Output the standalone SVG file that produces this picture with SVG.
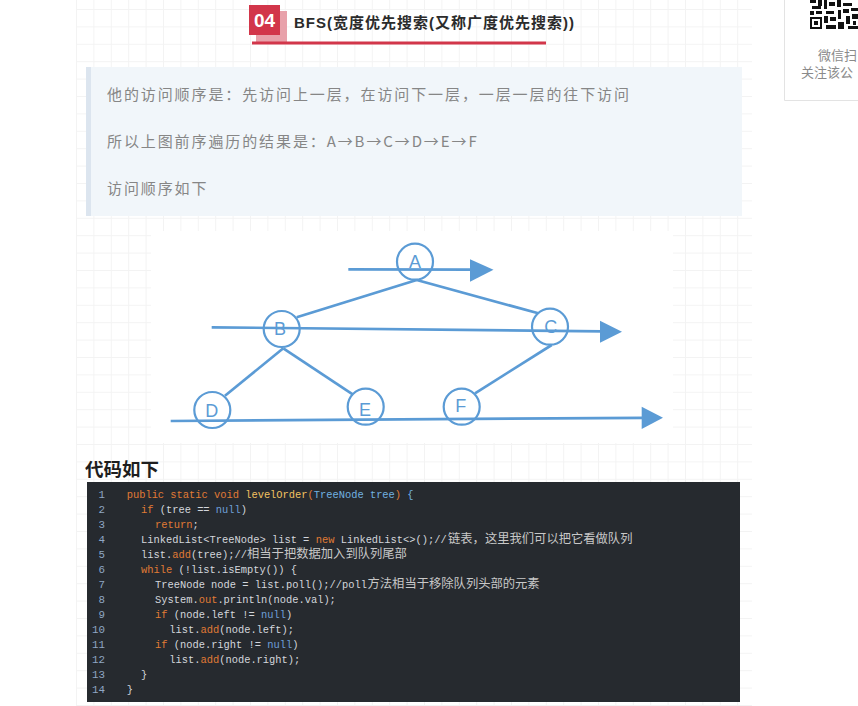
<svg xmlns="http://www.w3.org/2000/svg" width="858" height="706" viewBox="0 0 858 706">
<style>
.cjk{font-family:"Noto Sans CJK SC","Noto Sans",sans-serif}
.q{font-family:"Noto Sans CJK SC","Noto Sans",sans-serif;font-size:15px;fill:#868686;letter-spacing:1.9px}
.code{font-family:"Liberation Mono","DejaVu Sans Mono",monospace;font-size:10.4px;fill:#d3d6dc;white-space:pre}
.ln{font-family:"Liberation Mono","DejaVu Sans Mono",monospace;font-size:10.8px;fill:#8fa7c4;text-anchor:end}
.k{fill:#e07b35}
.f{fill:#f2c261}
.t{fill:#72b2e0}
.n{fill:#6e9fd8}
.c{font-family:"Noto Sans CJK SC","Noto Sans",sans-serif;font-size:12.3px;fill:#c8c8c8}
.node circle{fill:none;stroke:#5b9bd5;stroke-width:2.2}
.node text{font-family:"Liberation Sans","Open Sans",sans-serif;font-size:18px;fill:#5b9bd5;text-anchor:middle}
.edge{stroke:#5b9bd5;stroke-width:2.7;fill:none}
.head{fill:#5b9bd5}
</style>
<defs>
<pattern id="grid" patternUnits="userSpaceOnUse" x="76" y="9" width="17.4" height="17.4">
<path d="M0.5 0V17.4M0 0.5H17.4" stroke="#f3f3f3" stroke-width="1" fill="none"/>
</pattern>
</defs>
<rect width="858" height="706" fill="#ffffff"/>
<rect x="76" y="0" width="676" height="706" fill="url(#grid)"/>

<!-- QR box -->
<g id="qr">
<path d="M784.5 0V100.5H858" fill="none" stroke="#e3e3e3"/>
<rect x="810" y="17" width="12" height="12" fill="#111"/>
<rect x="812" y="19" width="8" height="8" fill="#fff"/>
<rect x="814" y="21" width="4" height="4" fill="#111"/>
<rect x="810" y="0" width="6" height="3" fill="#111"/>
<rect x="818" y="0" width="4" height="6" fill="#111"/>
<rect x="812" y="6" width="9" height="3" fill="#111"/>
<rect x="810" y="11" width="4" height="4" fill="#111"/>
<rect x="816" y="11" width="6" height="3" fill="#111"/>
<rect x="824" y="0" width="3" height="9" fill="#111"/>
<rect x="829" y="2" width="6" height="4" fill="#111"/>
<rect x="837" y="0" width="4" height="7" fill="#111"/>
<rect x="843" y="3" width="9" height="3" fill="#111"/>
<rect x="826" y="11" width="8" height="3" fill="#111"/>
<rect x="824" y="16" width="4" height="7" fill="#111"/>
<rect x="830" y="17" width="6" height="4" fill="#111"/>
<rect x="838" y="10" width="3" height="9" fill="#111"/>
<rect x="843" y="9" width="6" height="4" fill="#111"/>
<rect x="851" y="8" width="7" height="3" fill="#111"/>
<rect x="826" y="25" width="10" height="4" fill="#111"/>
<rect x="838" y="22" width="6" height="7" fill="#111"/>
<rect x="846" y="16" width="4" height="8" fill="#111"/>
<rect x="852" y="14" width="6" height="5" fill="#111"/>
<rect x="848" y="26" width="10" height="3" fill="#111"/>
<rect x="853" y="21" width="3" height="4" fill="#111"/>
<text x="818" y="60" class="cjk" font-size="13" fill="#8a8a8a">微信扫</text>
<text x="801" y="77" class="cjk" font-size="13" fill="#8a8a8a">关注该公</text>
</g>

<!-- Title -->
<g id="title">
<rect x="256" y="11" width="31" height="31" fill="#e8a1aa"/>
<rect x="249" y="5" width="31" height="30" fill="#d2364a"/>
<text x="264.5" y="27" text-anchor="middle" font-family="Liberation Sans, Arial, sans-serif" font-weight="bold" font-size="19" fill="#ffffff">04</text>
<rect x="252" y="41.5" width="294" height="3" fill="#d2364a"/>
<text x="294" y="28" font-family="Liberation Sans, 'Noto Sans CJK SC', sans-serif" font-weight="bold" font-size="15" letter-spacing="1" fill="#2b2b2b">BFS(宽度优先搜索(又称广度优先搜索))</text>
</g>

<!-- Quote -->
<g id="quote">
<rect x="86" y="67" width="656" height="149" fill="#f1f6fa"/>
<rect x="86" y="67" width="5" height="149" fill="#dce5ef"/>
<text x="107" y="100" class="q">他的访问顺序是：先访问上一层，在访问下一层，一层一层的往下访问</text>
<text x="107" y="147" class="q">所以上图前序遍历的结果是：A→B→C→D→E→F</text>
<text x="107" y="194" class="q">访问顺序如下</text>
</g>

<!-- Tree picture -->
<rect x="151" y="231" width="522" height="212" fill="#ffffff"/>
<g id="connectors">
<line class="edge" x1="416.7" y1="280" x2="296.7" y2="317.3"/>
<line class="edge" x1="416.7" y1="280" x2="538.3" y2="313.3"/>
<line class="edge" x1="283.3" y1="348.3" x2="225" y2="395.7"/>
<line class="edge" x1="283.3" y1="348.3" x2="352.7" y2="394.3"/>
<line class="edge" x1="551.7" y1="345" x2="475" y2="393.3"/>
<line class="edge" x1="348.3" y1="269.3" x2="472" y2="269.6"/>
<polygon class="head" points="470,259.3 493.5,269.7 470,281.7"/>
<line class="edge" x1="211.7" y1="327.3" x2="602" y2="331.4"/>
<polygon class="head" points="600,320.7 622,331.7 600,342.7"/>
<line class="edge" x1="170.7" y1="421" x2="644" y2="417.8"/>
<polygon class="head" points="641.7,406.7 663,417.7 641.7,429"/>
</g>
<g id="nodeA" class="node"><circle cx="415" cy="261.7" r="18"/><text x="415" y="268.2">A</text></g>
<g id="nodeB" class="node"><circle cx="281.7" cy="329" r="18"/><text x="280" y="334.5">B</text></g>
<g id="nodeC" class="node"><circle cx="550" cy="326.7" r="18"/><text x="550.7" y="333.2">C</text></g>
<g id="nodeD" class="node"><circle cx="212.3" cy="410" r="18"/><text x="211.7" y="416.5">D</text></g>
<g id="nodeE" class="node"><circle cx="365.7" cy="406.7" r="18"/><text x="365" y="416">E</text></g>
<g id="nodeF" class="node"><circle cx="461.7" cy="406.7" r="18"/><text x="460.7" y="412">F</text></g>

<!-- Code heading -->
<text x="85" y="476" font-family="'Noto Sans CJK SC', sans-serif" font-weight="bold" font-size="18.5" fill="#1e1e1e">代码如下</text>

<!-- Code block -->
<g id="code">
<rect x="87" y="482" width="653" height="220" fill="#262a2f"/>
<text class="ln" x="105" y="498">1</text>
<text class="ln" x="105" y="513">2</text>
<text class="ln" x="105" y="528">3</text>
<text class="ln" x="105" y="543">4</text>
<text class="ln" x="105" y="558">5</text>
<text class="ln" x="105" y="573">6</text>
<text class="ln" x="105" y="588">7</text>
<text class="ln" x="105" y="603">8</text>
<text class="ln" x="105" y="618">9</text>
<text class="ln" x="105" y="633">10</text>
<text class="ln" x="105" y="648">11</text>
<text class="ln" x="105" y="663">12</text>
<text class="ln" x="105" y="678">13</text>
<text class="ln" x="105" y="693">14</text>
<text class="code" x="126.7" y="498"><tspan class="k">public static void </tspan><tspan class="f">levelOrder</tspan><tspan class="k">(</tspan><tspan class="t">TreeNode tree</tspan><tspan class="k">)</tspan><tspan class="t"> {</tspan></text>
<text class="code" x="141" y="513"><tspan class="k">if</tspan> (tree == <tspan class="n">null</tspan>)</text>
<text class="code" x="155" y="528"><tspan class="k">return</tspan>;</text>
<text class="code" x="141" y="543">LinkedList&lt;TreeNode&gt; list =</text>
<text class="code k" x="315.7" y="543">new</text>
<text class="code" x="340.7" y="543">LinkedList&lt;&gt;();//</text>
<text class="c" x="448" y="543">链表，这里我们可以把它看做队列</text>
<text class="code" x="141" y="558">list.<tspan class="k">add</tspan>(tree);//</text>
<text class="c" x="247" y="558">相当于把数据加入到队列尾部</text>
<text class="code" x="141" y="573"><tspan class="k">while</tspan> (!list.isEmpty()) {</text>
<text class="code" x="155" y="588">TreeNode node = list.poll();//poll</text>
<text class="c" x="367.5" y="588">方法相当于移除队列头部的元素</text>
<text class="code" x="155" y="603">System.<tspan class="k">out</tspan>.println(node.val);</text>
<text class="code" x="155" y="618"><tspan class="k">if</tspan> (node.left != <tspan class="n">null</tspan>)</text>
<text class="code" x="169.3" y="633">list.<tspan class="k">add</tspan>(node.left);</text>
<text class="code" x="155" y="648"><tspan class="k">if</tspan> (node.right != <tspan class="n">null</tspan>)</text>
<text class="code" x="169.3" y="663">list.<tspan class="k">add</tspan>(node.right);</text>
<text class="code" x="141" y="678">}</text>
<text class="code" x="126.7" y="693">}</text>
</g>
</svg>
